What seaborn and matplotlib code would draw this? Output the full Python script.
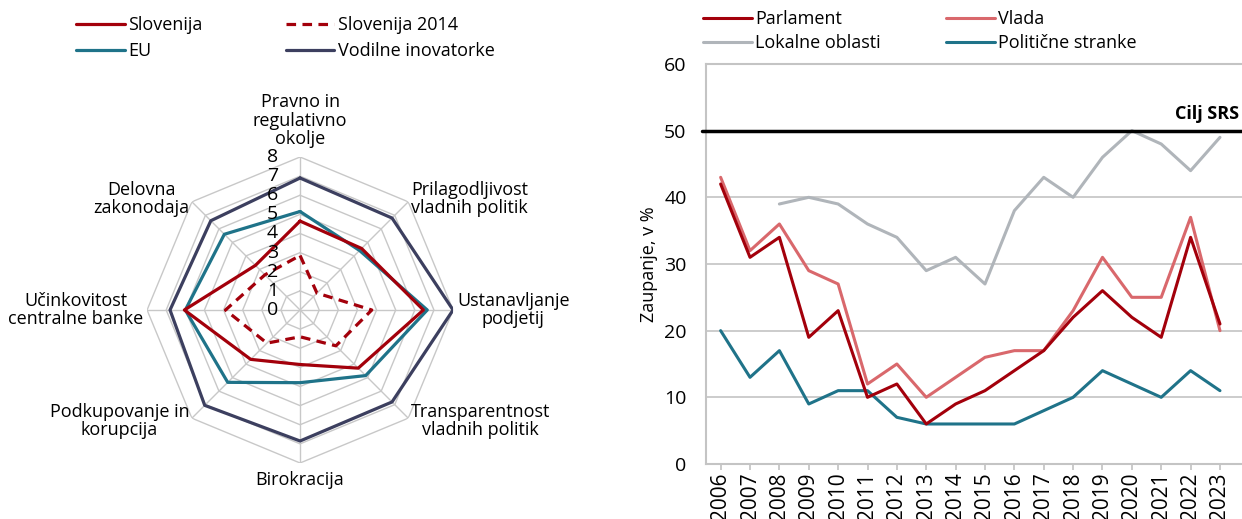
import numpy as np
import pandas as pd
import matplotlib
matplotlib.use("Agg")
import matplotlib.pyplot as plt
import matplotlib.transforms as mtransforms
from matplotlib.lines import Line2D
import seaborn as sns

# Radar data (clockwise from top)
kategorije = ["Pravno in\nregulativno\nokolje", "Prilagodljivost\nvladnih politik",
              "Ustanavljanje\npodjetij", "Transparentnost\nvladnih politik",
              "Birokracija", "Podkupovanje in\nkorupcija",
              "Učinkovitost\ncentralne banke", "Delovna\nzakonodaja"]
slovenija = [4.65, 4.55, 6.45, 4.3, 2.85, 3.65, 6.05, 3.3]
slovenija_2014 = [2.85, 1.25, 3.75, 2.65, 1.4, 2.45, 3.9, 2.6]
eu = [5.15, 4.4, 6.65, 4.85, 3.8, 5.35, 6.0, 5.6]
vodilne = [6.9, 6.8, 8.0, 6.8, 6.85, 7.05, 6.8, 6.6]
radar_ticks = [0, 1, 2, 3, 4, 5, 6, 7, 8]

# Trust data
leta = list(range(2006, 2024))
parlament = [42, 31, 34, 19, 23, 10, 12, 6, 9, 11, 14, 17, 22, 26, 22, 19, 34, 21]
vlada = [43, 32, 36, 29, 27, 12, 15, 10, 13, 16, 17, 17, 23, 31, 25, 25, 37, 20]
lokalne = [np.nan, np.nan, 39, 40, 39, 36, 34, 29, 31, 27, 38, 43, 40, 46, 50, 48, 44, 49]
stranke = [20, 13, 17, 9, 11, 11, 7, 6, 6, 6, 6, 8, 10, 14, 12, 10, 14, 11]
cilj = 50

RDEC = "#a3000b"
SVETLO_RDEC = "#d9686c"
SIVA = "#b0b5ba"
TEAL = "#1f7389"
TEMNO = "#3c3f5f"

sns.set_theme(style="white")
plt.rcParams["font.family"] = ["Open Sans", "DejaVu Sans"]
plt.rcParams["font.size"] = 13
for k in ["text.color", "axes.labelcolor", "xtick.color", "ytick.color"]:
    plt.rcParams[k] = "black"

fig = plt.figure(figsize=(12.42, 5.19), dpi=100)

# ---- Radar ----
ax = fig.add_axes([0.1184, 0.1079, 0.2464, 0.5896], projection="polar")
ax.set_theta_zero_location("N")
ax.set_theta_direction(-1)
n = len(kategorije)
kot = np.linspace(0, 2 * np.pi, n, endpoint=False)
kot_z = np.append(kot, kot[0])
ax.grid(False)
ax.spines["polar"].set_visible(False)
ax.set_xticks([])
ax.set_yticks([])
ax.set_ylim(0, 8)

for r in radar_ticks[1:]:
    ax.plot(kot_z, [r] * (n + 1), color="#c8c8c8", lw=1, zorder=1)
for a in kot:
    ax.plot([a, a], [0, 8], color="#c8c8c8", lw=1, zorder=1)

def zapri(v):
    return list(v) + [v[0]]

ax.plot(kot_z, zapri(vodilne), color=TEMNO, lw=2.3, zorder=3)
ax.plot(kot_z, zapri(eu), color=TEAL, lw=2.3, zorder=4)
ax.plot(kot_z, zapri(slovenija), color=RDEC, lw=2.3, zorder=5)
ax.plot(kot_z, zapri(slovenija_2014), color=RDEC, lw=2.3, ls=(0, (3, 2)), zorder=6)

for r in radar_ticks:
    ax.annotate(str(r), xy=(0, r), xytext=(-20, 0), textcoords="offset points",
                ha="center", va="center", fontsize=14, zorder=7)

postavitev = [(8.45, "center", "bottom"), (8.2, "left", "center"), (8.2, "left", "center"),
              (8.2, "left", "center"), (8.4, "center", "top"), (8.2, "right", "center"),
              (8.2, "right", "center"), (8.2, "right", "center")]
for a, lab, (r, ha, va) in zip(kot, kategorije, postavitev):
    ax.text(a, r, lab, ha=ha, va=va, multialignment="center", fontsize=13,
            linespacing=1.05)

leg_l = [Line2D([], [], color=RDEC, lw=2.3), Line2D([], [], color=TEAL, lw=2.3),
         Line2D([], [], color=RDEC, lw=2.3, ls=(0, (3, 2))), Line2D([], [], color=TEMNO, lw=2.3)]
fig.legend(leg_l, ["Slovenija", "EU", "Slovenija 2014", "Vodilne inovatorke"],
           ncol=2, loc="upper left", bbox_to_anchor=(0.048, 1.0), frameon=False,
           handlelength=2.7, handletextpad=0.2, columnspacing=4.6, labelspacing=0.45,
           fontsize=13)

# ---- Trust lines ----
ax2 = fig.add_axes([0.5684, 0.106, 0.4316, 0.7707])
df = pd.DataFrame({"leto": leta * 4,
                   "vrednost": lokalne + stranke + vlada + parlament,
                   "serija": ["Lokalne oblasti"] * 18 + ["Politične stranke"] * 18
                             + ["Vlada"] * 18 + ["Parlament"] * 18})
paleta = {"Parlament": RDEC, "Vlada": SVETLO_RDEC, "Lokalne oblasti": SIVA, "Politične stranke": TEAL}
sns.lineplot(data=df.dropna(), x="leto", y="vrednost", hue="serija",
             hue_order=["Lokalne oblasti", "Politične stranke", "Vlada", "Parlament"],
             palette=paleta, estimator=None, lw=2.2, legend=False, ax=ax2)

ax2.set_xlim(2005.5, 2023.75)
ax2.set_ylim(0, 60)
ax2.set_yticks(range(0, 61, 10))
ax2.set_xticks(leta)
ax2.set_xticklabels([str(l) for l in leta], rotation=90)
for y in [10, 20, 30, 40]:
    ax2.axhline(y, color="#c4c4c4", lw=1.2, zorder=0)
ax2.axhline(cilj, xmin=-0.008, xmax=1, color="black", lw=2.5, clip_on=False, zorder=5)
tr = mtransforms.blended_transform_factory(ax2.transAxes, ax2.transData)
ax2.text(0.995, cilj + 1.2, "Cilj SRS", transform=tr, ha="right", va="bottom",
         fontweight="bold", fontsize=13)
for s in ["left", "top", "bottom"]:
    ax2.spines[s].set_color("#c4c4c4")
    ax2.spines[s].set_linewidth(1.5)
ax2.spines["right"].set_visible(False)
ax2.tick_params(axis="y", length=0, pad=14, labelsize=14)
ax2.tick_params(axis="x", length=4, color="#c4c4c4", bottom=True, pad=2, labelsize=15)
ax2.set_xlabel("")
ax2.set_ylabel("Zaupanje, v %", fontsize=13, labelpad=4)

leg_r = [Line2D([], [], color=RDEC, lw=2.2), Line2D([], [], color=SIVA, lw=2.2),
         Line2D([], [], color=SVETLO_RDEC, lw=2.2), Line2D([], [], color=TEAL, lw=2.2)]
fig.legend(leg_r, ["Parlament", "Lokalne oblasti", "Vlada", "Politične stranke"],
           ncol=2, loc="upper left", bbox_to_anchor=(0.553, 1.012), frameon=False,
           handlelength=2.7, handletextpad=0.2, columnspacing=3.6, labelspacing=0.35,
           fontsize=13)

fig.savefig("out.png", dpi=100)
